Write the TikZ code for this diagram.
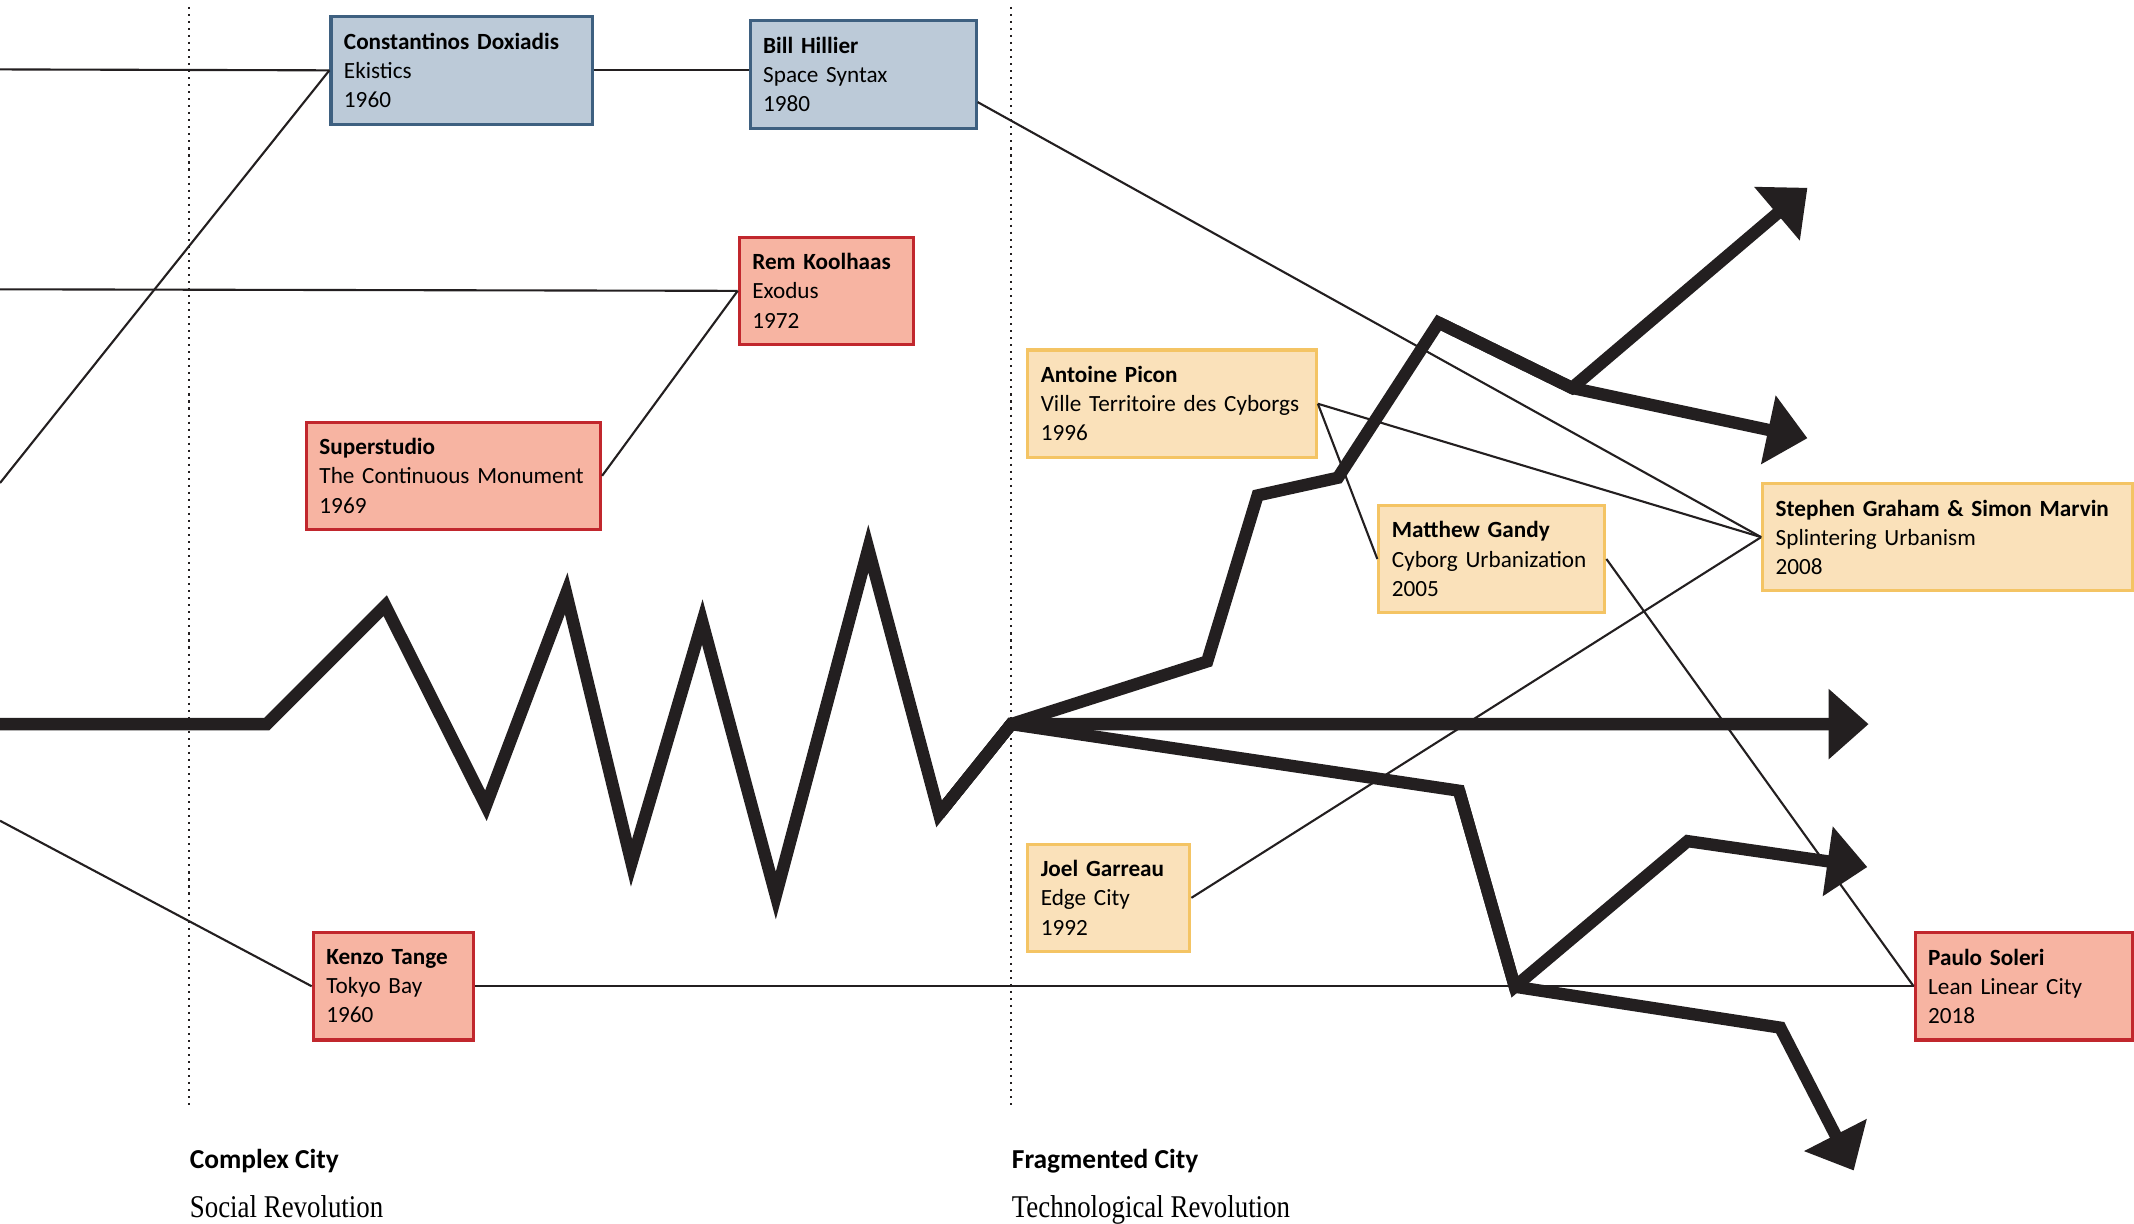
\documentclass[tikz,border=0pt]{standalone}
\usepackage{fontspec}
\setmainfont{Liberation Serif}
\setsansfont{Carlito}
\newfontfamily\eraserif[FakeStretch=0.85]{Liberation Serif}
\definecolor{CardBlue}{RGB}{188,202,216}
\definecolor{CardBlueLine}{RGB}{62,96,128}
\definecolor{CardRed}{RGB}{247,180,162}
\definecolor{CardRedLine}{RGB}{193,39,45}
\definecolor{CardGold}{RGB}{250,225,186}
\definecolor{CardGoldLine}{RGB}{244,196,100}
\definecolor{Ink}{RGB}{35,31,32}
\usetikzlibrary{
    arrows.meta,
    calc,
}

\begin{document}
\begin{tikzpicture}[
    card/.style={rectangle, draw=#1Line, fill=#1, line width=0.9pt, anchor=north west, minimum height=1.075cm, inner xsep=0.13cm, align=left, font=\sffamily\fontsize{6.6}{8.3}\selectfont},
    link/.style={Ink, line width=0.6pt},
    era/.style={Ink, line width=0.6pt, dash pattern=on 0.6pt off 1.4pt},
    flow/.style={Ink, line width=3.5pt, line join=miter},
    flowtip/.style={flow, -{Triangle[length=0.4cm, width=0.68cm]}},
    eralabel/.style={anchor=base west, inner sep=0pt}
]
    \useasboundingbox (0,0) rectangle (21.34,-12.23);

    % eras
    \draw[era] (1.892,-0.068) -- (1.892,-11.09);
    \draw[era] (10.112,-0.068) -- (10.112,-11.09);
    \node[eralabel, font=\sffamily\bfseries\fontsize{7.8}{9}\selectfont] (cx) at (1.892,-11.68) {Complex City};
    \node[eralabel, font=\eraserif\fontsize{9}{10}\selectfont] (sr) at (1.892,-12.17) {Social Revolution};
    \node[eralabel, font=\sffamily\bfseries\fontsize{7.8}{9}\selectfont] (fc) at (10.112,-11.68) {Fragmented City};
    \node[eralabel, font=\eraserif\fontsize{9}{10}\selectfont] (tr) at (10.112,-12.17) {Technological Revolution};

    % cards
    \node[card=CardBlue, text width=2.353cm] (dox) at (3.294,-0.150) {\textbf{Constantinos Doxiadis}\\Ekistics\\1960};
    \node[card=CardBlue, text width=1.999cm] (hil) at (7.486,-0.191) {\textbf{Bill Hillier}\\Space Syntax\\1980};
    \node[card=CardRed, text width=1.482cm]  (rem) at (7.377,-2.355) {\textbf{Rem Koolhaas}\\Exodus\\1972};
    \node[card=CardRed, text width=2.680cm]  (sup) at (3.049,-4.205) {\textbf{Superstudio}\\The Continuous Monument\\1969};
    \node[card=CardRed, text width=1.346cm]  (tan) at (3.117,-9.309) {\textbf{Kenzo Tange}\\Tokyo Bay\\1960};
    \node[card=CardGold, text width=2.625cm] (pic) at (10.262,-3.484) {\textbf{Antoine Picon}\\Ville Territoire des Cyborgs\\1996};
    \node[card=CardGold, text width=1.999cm] (gan) at (13.773,-5.036) {\textbf{Matthew Gandy}\\Cyborg Urbanization\\2005};
    \node[card=CardGold, text width=3.442cm] (gra) at (17.611,-4.818) {\textbf{Stephen Graham \& Simon Marvin}\\Splintering Urbanism\\2008};
    \node[card=CardGold, text width=1.360cm] (gar) at (10.262,-8.425) {\textbf{Joel Garreau}\\Edge City\\1992};
    \node[card=CardRed, text width=1.918cm]  (sol) at (19.136,-9.309) {\textbf{Paulo Soleri}\\Lean Linear City\\2018};

    % links
    \coordinate (in1) at (0,-0.694);
    \coordinate (in2) at (0,-4.830);
    \coordinate (in3) at (0,-2.893);
    \coordinate (in4) at (0,-8.207);
    \draw[link] (in1) -- (dox.west);
    \draw[link] (in2) -- (dox.west);
    \draw[link] (dox.east) -- (dox.east -| hil.west);
    \draw[link] (in3) -- (rem.west);
    \draw[link] (rem.west) -- (sup.east);
    \draw[link] (in4) -- (tan.west);
    \draw[link] (tan.east) -- (sol.west);
    \draw[link] ($(hil.east)!0.5!(hil.south east)$) -- (gra.west);
    \draw[link] (pic.east) -- (gra.west);
    \draw[link] (pic.east) -- (gan.west);
    \draw[link] (gar.east) -- (gra.west);
    \draw[link] (gan.east) -- (sol.west);

    % main flow
    \coordinate (fork) at (10.112,-7.241);
    \coordinate (drop) at (9.391,-8.139);
    \coordinate (rise) at (14.386,-3.226);
    \coordinate (fall) at (14.590,-7.907);
    \draw[flowtip] (0,-7.241) -- (2.668,-7.241) -- (3.852,-6.056) -- (4.859,-8.057) -- (5.662,-5.934) -- (6.315,-8.629) -- (7.023,-6.220) -- (7.758,-8.955) -- (8.683,-5.485) -- (drop) -- (fork) -- (18.686,-7.241);
    \draw[flowtip] (drop) -- (fork) -- (12.072,-6.614) -- (12.576,-4.954) -- (13.379,-4.777) -- (rise) -- (15.720,-3.879) -- (18.074,-1.878);
    \draw[flowtip] (rise) -- (15.720,-3.879) -- (18.074,-4.382);
    \draw[flowtip] (drop) -- (fork) -- (fall) -- (15.148,-9.867) -- (16.876,-8.411) -- (18.673,-8.670);
    \draw[flowtip] (fall) -- (15.148,-9.867) -- (17.802,-10.276) -- (18.537,-11.705);
\end{tikzpicture}
\end{document}
